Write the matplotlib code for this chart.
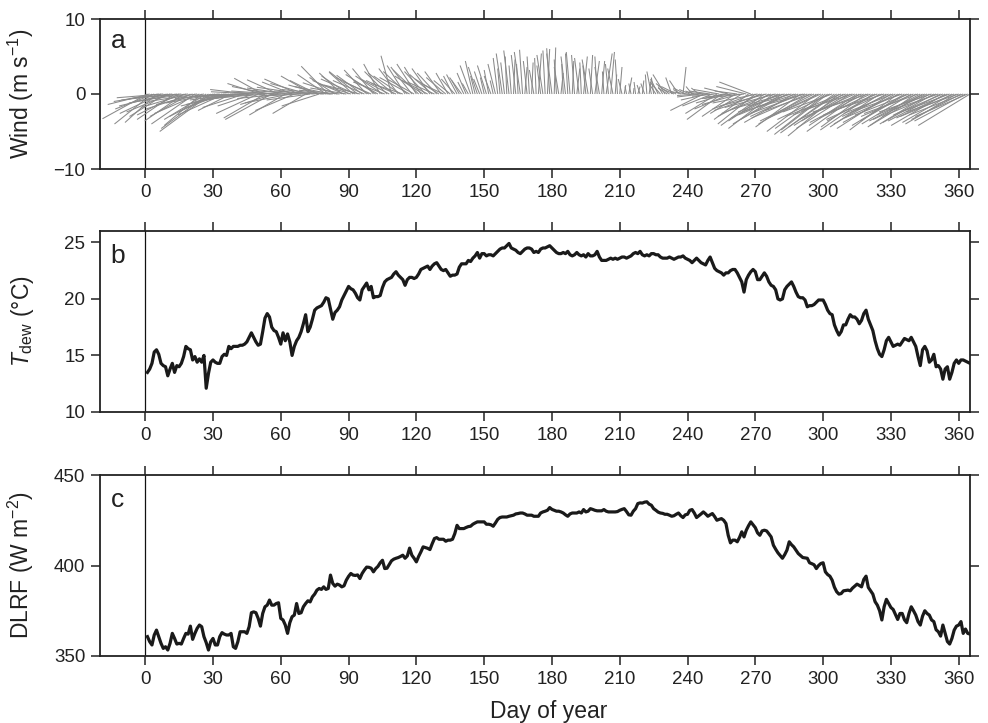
import matplotlib
matplotlib.use("Agg")
import matplotlib.pyplot as plt
from matplotlib.collections import LineCollection
import numpy as np

plt.rcParams['font.family'] = ['Liberation Sans', 'DejaVu Sans']
plt.rcParams['mathtext.fontset'] = 'custom'
plt.rcParams['mathtext.rm'] = 'Liberation Sans'
plt.rcParams['mathtext.it'] = 'Liberation Sans:italic'
plt.rcParams['axes.unicode_minus'] = True

# daily wind components (m/s), day 1..365
wind_u = [
    -6.0, -5.6, -5.0, -5.2, -4.2, -6.0, -5.5, -6.2, -4.8, -6.5,
    -5.8, -6.8, -5.0, -6.4, -5.6, -6.9, -5.2, -6.0, -6.6, -5.4,
    -6.2, -5.8, -6.6, -6.0, -5.0, -6.4, -5.6, -6.3, -6.8, -5.8,
    -6.6, -5.2, -6.0, -4.6, -6.2, -5.0, -6.4, -4.4, -5.8, -6.6,
    -5.0, -6.0, -4.8, -5.6, -6.8, -5.2, -6.5, -4.8, -6.0, -5.6,
    -4.4, -3.8, -5.5, -6.8, -5.0, -6.2, -4.5, -6.0, -4.2, -5.8,
    -6.6, -4.8, -5.4, -6.0, -4.0, -5.2, -6.4, -4.6, -5.6, -6.2,
    -4.4, -5.0, -5.8, -4.2, -5.4, -3.6, -5.0, -4.4, -5.6, -3.8,
    -3.6, -4.8, -5.2, -3.4, -4.6, -5.4, -3.0, -4.2, -4.8, -3.6,
    -4.4, -3.2, -4.6, -3.8, -4.8, -3.4, -4.2, -3.0, -4.4, -3.6,
    -2.8, -4.0, -3.2, -2.2, -3.6, -4.2, -3.0, -3.8, -1.4, -3.4,
    -4.0, -2.6, -3.6, -4.2, -2.4, -3.2, -4.0, -2.8, -3.6, -2.6,
    -3.4, -2.2, -3.8, -2.8, -3.4, -2.4, -3.0, -3.6, -2.6, -3.2,
    -2.2, -3.0, -2.6, -1.6, -2.2, -1.2, -1.8, -1.4, -1.0, -1.6,
    -0.8, -1.2, -0.8, -1.4, -1.0, -0.6, -1.2, -0.8, -1.0, -0.5,
    -1.2, -0.6, -0.9, -0.4, -1.0, -0.6, -0.3, -0.8, -0.5, -0.2,
    -0.7, -0.3, 0.2, -0.6, -0.2, -0.8, -0.4, 0.3, -0.5, -0.3,
    0.2, -0.6, -0.2, 0.4, -0.5, -0.8, -0.3, 0.3, -0.4, -0.7,
    0.2, -0.3, -0.6, 0.3, -0.2, -0.6, -0.3, -0.5, 0.2, -0.4,
    0.4, -0.6, -0.2, 0.5, -0.4, -0.8, 0.3, -0.5, 0.6, -0.3,
    -0.6, 0.4, -0.2, 0.8, -0.4, 0.5, -0.7, 0.2, -0.3, 0.3,
    -0.5, 0.2, -0.2, 0.4, -0.3, 0.1, -0.2, 0.3, -0.4, 0.2,
    -0.5, -0.2, 0.3, -0.6, -0.3, -0.8, -1.0, -1.4, -0.6, -1.6,
    -1.2, -1.8, -0.8, -1.4, -2.0, -1.2, -1.0, 0.4, -1.6, -2.2,
    -1.4, -0.8, -1.2, -2.6, -1.0, -3.2, -4.4, -2.4, -3.6, -2.8,
    -4.0, -3.0, -4.2, -3.4, -4.6, -2.6, -4.0, -3.2, -4.8, -3.6,
    -4.4, -3.0, -5.0, -4.2, -5.6, -4.0, -4.6, -4.2, -5.4, -5.0,
    -6.0, -5.6, -6.4, -5.8, -6.2, -5.4, -6.6, -6.0, -6.8, -6.2,
    -5.6, -6.6, -7.0, -6.2, -6.8, -5.8, -6.6, -7.2, -6.4, -6.0,
    -7.0, -6.6, -7.4, -6.8, -6.2, -7.2, -6.6, -6.0, -7.0, -6.4,
    -6.8, -6.2, -7.0, -6.6, -7.2, -6.4, -6.8, -7.4, -6.6, -7.0,
    -6.2, -7.2, -6.8, -7.4, -6.4, -7.0, -6.6, -7.2, -6.0, -7.4,
    -6.8, -7.0, -6.4, -7.2, -6.6, -7.4, -6.8, -7.0, -6.2, -7.2,
    -6.6, -7.0, -6.4, -7.4, -6.8, -7.0, -6.2, -7.2, -6.6, -7.0,
    -6.4, -7.2, -6.8, -7.0, -6.4, -7.2, -6.6, -7.0, -6.8, -7.2,
    -6.4, -7.0, -6.6, -7.2, -6.8, -7.0, -6.6, -7.2, -6.8, -7.0,
    -6.6, -7.2, -6.8, -7.0, -6.9,
]
wind_v = [
    -3.3, -1.4, -4.0, -2.0, -3.8, -1.0, -2.6, -0.5, -3.0, -1.6,
    -2.4, -0.8, -3.4, -1.2, -2.8, -0.6, -3.6, -1.8, -0.9, -3.0,
    -2.0, -4.0, -1.0, -2.6, -4.2, -1.4, -3.4, -4.6, -5.0, -3.0,
    -1.2, -2.4, -0.6, -1.8, -2.8, -0.4, -1.6, -2.2, -0.8, -1.4,
    -0.3, -1.0, -0.6, -1.8, -0.4, 0.6, -0.8, -1.6, 0.3, -2.6,
    1.4, 2.1, -3.2, -0.5, 1.0, -3.4, -1.4, 0.4, 1.9, -0.6,
    0.2, -2.8, 0.8, -1.2, 1.6, -2.2, 0.5, 2.0, -0.3, 0.9,
    -2.6, 1.4, -0.8, 2.4, 0.4, 1.8, -1.6, 1.2, 0.6, 2.6,
    3.7, 1.0, 0.2, 2.2, 1.5, 0.5, 2.8, 1.8, 0.8, 2.4,
    1.4, 2.9, 2.0, 3.0, 1.2, 2.5, 1.8, 3.2, 2.2, 1.6,
    3.4, 2.6, 1.8, 4.0, 2.4, 1.6, 3.0, 2.0, 5.1, 2.8,
    1.8, 3.4, 2.4, 1.4, 3.8, 3.0, 2.2, 3.6, 2.0, 4.0,
    3.2, 3.6, 2.4, 3.0, 1.8, 3.4, 2.6, 1.6, 2.8, 2.0,
    3.0, 1.4, 2.2, 2.8, 1.8, 2.4, 2.0, 2.6, 1.8, 2.2,
    1.6, 2.8, 1.4, 3.8, 4.4, 2.4, 3.6, 2.0, 3.0, 2.2,
    3.8, 3.2, 2.4, 1.8, 4.0, 4.8, 3.4, 5.4, 4.2, 5.0,
    5.8, 3.8, 4.6, 5.2, 4.0, 5.6, 5.9, 3.6, 4.4, 5.0,
    4.2, 3.2, 4.8, 5.4, 3.8, 5.2, 5.8, 6.0, 6.1, 5.4,
    6.2, 4.6, 3.6, 2.8, 4.0, 5.0, 5.4, 5.6, 4.4, 5.2,
    3.4, 4.8, 4.2, 5.0, 3.8, 4.6, 5.2, 3.4, 4.4, 5.0,
    3.6, 4.4, 3.0, 5.4, 4.0, 5.6, 3.4, 2.6, 4.6, 3.6,
    2.0, 1.2, 1.0, 2.2, 1.4, 0.8, 1.6, 1.0, 1.2, 1.8,
    1.4, 2.6, 2.0, 3.0, 2.2, 1.2, 2.0, 1.6, 1.0, 2.6,
    0.8, 1.4, 2.2, 0.6, 1.0, 1.8, 0.6, 3.6, 0.8, 0.3,
    0.6, 1.0, 0.4, -0.2, 0.8, -0.4, -2.2, 0.2, -0.8, 0.4,
    -1.6, -0.3, -2.6, 0.6, -3.4, -0.6, -1.2, 0.8, -2.0, -0.4,
    -3.0, 0.4, -1.4, -2.6, -0.6, 1.0, -3.4, 1.6, -2.0, -4.0,
    -1.2, -3.0, -2.2, -4.2, -1.6, -3.6, -2.6, -4.6, -1.8, -3.2,
    -2.4, -4.0, -2.0, -3.4, -2.8, -1.6, -3.8, -2.4, -3.0, -4.4,
    -2.6, -1.8, -3.2, -4.0, -2.2, -3.6, -5.0, -2.8, -3.2, -4.6,
    -5.4, -4.8, -3.4, -2.4, -5.2, -4.4, -5.6, -3.0, -4.2, -2.8,
    -3.6, -4.6, -2.2, -3.4, -4.2, -5.0, -2.6, -3.8, -4.4, -2.4,
    -3.2, -4.8, -3.6, -2.8, -4.4, -3.4, -2.2, -4.0, -3.0, -4.6,
    -2.6, -3.8, -4.8, -3.2, -2.4, -4.2, -3.6, -2.8, -4.0, -3.0,
    -4.4, -2.6, -3.6, -4.2, -2.8, -3.4, -4.0, -2.4, -3.8, -3.0,
    -2.2, -3.6, -2.8, -4.2, -3.2, -2.6, -3.8, -3.0, -4.0, -2.4,
    -3.4, -2.8, -3.6, -3.0, -4.2,
]

# daily dew-point temperature (deg C), day 1..365
t_dew = [
    13.5, 13.8, 14.3, 15.3, 15.5, 15.1, 14.3, 14.1, 14.0, 13.2,
    13.8, 14.3, 13.5, 14.1, 14.0, 14.3, 14.9, 15.8, 15.6, 15.5,
    14.6, 14.9, 14.4, 14.7, 14.4, 15.0, 12.1, 13.4, 14.4, 14.6,
    14.4, 14.3, 14.3, 14.9, 15.1, 15.0, 15.8, 15.6, 15.8, 15.8,
    15.8, 15.9, 15.9, 16.0, 16.2, 16.6, 17.0, 16.6, 16.2, 15.9,
    16.0, 17.1, 18.3, 18.7, 18.4, 17.5, 17.2, 17.1, 16.6, 16.0,
    17.0, 16.3, 16.9, 16.2, 15.0, 15.8, 16.3, 16.6, 17.1, 17.8,
    18.6, 17.1, 17.5, 18.2, 19.0, 19.2, 19.3, 19.4, 19.7, 20.1,
    20.0, 19.1, 18.2, 18.8, 19.0, 19.3, 19.9, 20.3, 20.7, 21.1,
    20.9, 20.8, 20.5, 20.1, 19.9, 20.8, 21.1, 21.4, 20.8, 21.1,
    20.1, 20.2, 20.2, 20.3, 21.0, 21.5, 21.7, 21.8, 21.9, 22.2,
    22.4, 22.1, 21.9, 21.7, 21.2, 21.7, 21.9, 21.9, 21.8, 21.9,
    22.2, 22.6, 22.7, 22.8, 22.9, 22.6, 22.9, 23.1, 23.2, 22.9,
    22.6, 22.5, 22.6, 22.3, 22.0, 22.1, 22.1, 22.2, 22.8, 23.1,
    23.1, 23.1, 23.4, 23.3, 23.6, 23.8, 24.1, 23.6, 24.0, 24.0,
    23.8, 23.9, 23.9, 23.8, 24.0, 24.2, 24.4, 24.5, 24.5, 24.7,
    24.9, 24.5, 24.4, 24.3, 24.1, 24.0, 24.2, 24.4, 24.5, 24.5,
    24.4, 24.1, 24.2, 24.1, 24.4, 24.5, 24.5, 24.6, 24.7, 24.5,
    24.3, 24.1, 24.0, 24.0, 24.1, 24.0, 24.2, 23.9, 23.8, 23.9,
    24.1, 23.9, 23.8, 23.9, 23.7, 24.0, 23.8, 23.8, 23.9, 24.2,
    23.7, 23.4, 23.4, 23.4, 23.5, 23.6, 23.5, 23.6, 23.5, 23.6,
    23.7, 23.7, 23.6, 23.7, 23.8, 24.0, 24.1, 24.0, 24.2, 23.9,
    23.8, 23.9, 23.8, 24.0, 24.0, 23.9, 23.9, 23.7, 23.6, 23.6,
    23.6, 23.7, 23.6, 23.5, 23.6, 23.7, 23.7, 23.8, 23.6, 23.5,
    23.4, 23.2, 23.4, 23.6, 23.4, 23.2, 23.1, 23.0, 23.4, 23.7,
    23.2, 22.7, 22.5, 22.4, 22.3, 22.1, 22.3, 22.3, 22.5, 22.6,
    22.6, 22.3, 21.9, 21.5, 20.6, 21.7, 22.1, 22.4, 22.6, 22.4,
    21.7, 21.7, 22.0, 22.3, 22.0, 21.5, 21.2, 21.1, 20.8, 20.0,
    19.9, 20.0, 20.8, 21.1, 21.3, 21.5, 21.1, 20.6, 20.2, 20.1,
    20.1, 19.9, 19.3, 19.4, 19.4, 19.5, 19.7, 19.9, 19.9, 19.9,
    19.5, 19.0, 18.7, 18.6, 17.7, 17.2, 16.8, 17.1, 17.7, 17.7,
    18.2, 18.6, 18.4, 18.4, 18.2, 17.8, 18.1, 18.7, 19.0, 18.2,
    17.7, 17.2, 16.3, 15.6, 15.1, 14.9, 15.5, 16.3, 16.6, 16.2,
    15.8, 15.9, 16.0, 15.9, 16.2, 16.5, 16.4, 16.3, 16.6, 16.2,
    15.8, 14.9, 14.1, 15.5, 15.8, 15.4, 14.4, 14.6, 15.1, 14.0,
    14.1, 13.8, 12.9, 13.8, 14.0, 12.9, 13.5, 14.3, 14.6, 14.3,
    14.6, 14.6, 14.5, 14.4, 14.3,
]

# daily downward longwave radiative flux (W/m2), day 1..365
dlrf = [
    360.7, 357.9, 356.1, 361.6, 364.3, 360.7, 357.0, 354.2, 355.1, 353.3,
    357.0, 362.5, 359.7, 356.6, 357.0, 356.6, 359.7, 362.5, 362.1, 366.5,
    359.2, 362.5, 365.3, 367.1, 366.2, 360.7, 357.4, 353.3, 357.9, 359.7,
    356.1, 356.1, 360.7, 362.9, 362.1, 361.6, 361.6, 362.5, 355.1, 354.2,
    357.9, 363.4, 363.4, 363.4, 362.5, 366.2, 373.9, 374.4, 373.9, 370.8,
    366.5, 373.5, 377.2, 378.1, 380.9, 378.1, 378.1, 379.0, 379.4, 370.8,
    369.9, 367.1, 362.5, 368.4, 371.7, 372.6, 379.0, 373.5, 373.9, 377.2,
    379.0, 380.5, 379.9, 382.7, 384.2, 386.4, 387.3, 386.8, 388.2, 386.8,
    387.3, 394.7, 390.1, 388.6, 389.7, 389.2, 388.2, 388.8, 391.9, 394.0,
    395.6, 394.7, 394.5, 394.8, 392.8, 395.6, 397.5, 399.1, 399.0, 398.5,
    396.5, 398.3, 399.5, 401.5, 402.9, 398.3, 398.5, 400.5, 402.6, 403.5,
    404.0, 404.4, 405.0, 405.7, 404.0, 405.3, 409.6, 405.7, 404.0, 402.0,
    405.0, 407.5, 410.3, 409.9, 409.5, 408.8, 412.0, 414.9, 415.4, 414.5,
    414.5, 414.5, 413.4, 414.0, 414.0, 414.5, 417.6, 422.2, 420.4, 420.4,
    420.4, 421.0, 421.5, 421.7, 422.8, 423.5, 424.1, 424.1, 424.1, 424.1,
    422.8, 422.8, 422.5, 421.7, 423.5, 425.5, 426.5, 426.8, 426.8, 426.8,
    427.2, 427.5, 427.8, 428.5, 428.7, 429.0, 429.0, 428.5, 427.8, 427.8,
    427.8, 427.2, 427.2, 427.2, 429.0, 429.6, 430.0, 430.5, 432.0, 431.0,
    430.5, 430.0, 430.0, 429.6, 429.0, 428.0, 427.2, 428.5, 429.0, 429.0,
    429.0, 429.6, 429.0, 430.9, 429.6, 430.0, 431.4, 431.0, 430.5, 430.2,
    430.2, 430.2, 430.9, 430.0, 429.6, 429.6, 429.6, 429.6, 429.8, 430.5,
    431.0, 431.4, 429.8, 428.0, 427.8, 430.0, 431.4, 434.2, 434.6, 434.5,
    435.0, 435.2, 433.9, 433.3, 431.4, 430.5, 429.5, 429.0, 428.8, 428.3,
    428.3, 427.8, 427.2, 427.5, 428.3, 429.0, 427.5, 426.5, 428.0, 428.3,
    430.5, 430.9, 429.0, 426.5, 427.5, 428.5, 429.6, 428.5, 427.2, 428.0,
    428.7, 427.0, 425.0, 425.5, 425.9, 425.0, 423.2, 416.7, 412.5, 414.0,
    414.0, 413.1, 415.5, 418.6, 415.8, 419.5, 422.0, 424.1, 422.5, 420.9,
    418.0, 416.7, 419.1, 419.5, 419.1, 417.5, 415.8, 411.2, 409.0, 407.0,
    405.5, 404.0, 406.0, 408.5, 413.1, 411.5, 410.3, 408.5, 406.6, 405.5,
    404.4, 404.2, 404.0, 401.5, 401.0, 400.4, 398.3, 400.0, 401.1, 401.5,
    396.5, 395.0, 394.1, 391.9, 388.0, 385.5, 384.2, 384.5, 386.0, 386.2,
    386.4, 386.0, 387.5, 388.6, 389.7, 389.0, 388.2, 392.3, 394.1, 387.9,
    386.0, 384.2, 380.0, 378.1, 375.0, 369.9, 377.2, 381.3, 379.0, 376.8,
    375.7, 373.0, 370.2, 373.5, 373.5, 370.0, 368.4, 373.5, 377.2, 375.0,
    372.6, 369.0, 367.1, 372.0, 375.0, 373.5, 372.6, 369.9, 369.0, 364.5,
    363.4, 361.0, 367.1, 362.5, 358.0, 356.6, 359.7, 364.3, 366.5, 367.1,
    369.0, 362.5, 364.9, 362.5, 362.1,
]

days = np.arange(1, 366)
x_ticks = list(range(0, 361, 30))

W, H = 988, 723
fig = plt.figure(figsize=(W / 100, H / 100), dpi=100)


def frac(x0, y0, x1, y1):
    # pixel box -> figure fraction [left, bottom, width, height]
    return [x0 / W, 1 - y1 / H, (x1 - x0) / W, (y1 - y0) / H]


ax_a = fig.add_axes(frac(100, 19, 970, 169))
ax_b = fig.add_axes(frac(100, 231, 970, 412))
ax_c = fig.add_axes(frac(100, 475, 970, 656))


def style(ax, ylim, yticks, letter):
    ax.set_xlim(-20, 365)
    ax.set_ylim(*ylim)
    ax.set_xticks(x_ticks)
    ax.set_yticks(yticks)
    ax.tick_params(direction='out', length=6.5, width=1.1, labelsize=13.5,
                   top=True, right=True, pad=4, color='#222222',
                   labelcolor='#222222')
    for sp in ax.spines.values():
        sp.set_linewidth(1.3)
        sp.set_color('#222222')
    ax.axvline(0, color='#111111', lw=0.9, zorder=1)
    ax.text(0.012, 0.93, letter, transform=ax.transAxes, fontsize=19,
            va='top', ha='left', color='#222222')


# a: wind sticks, drawn isotropically in screen space
style(ax_a, (-10, 10), [-10, 0, 10], 'a')
bb = ax_a.get_window_extent()
px_per_day = bb.width / (365 - -20)
px_per_ms = bb.height / 20.0
k = px_per_ms / px_per_day
u = np.array(wind_u)
v = np.array(wind_v)
segs = [[(d, 0.0), (d + uu * k, vv)] for d, uu, vv in zip(days, u, v)]
ax_a.add_collection(LineCollection(segs, colors='#8a8a8a', linewidths=0.75,
                                   zorder=2))
ax_a.set_ylabel('Wind (m s$^{-1}$)', fontsize=16.5, color='#222222')

# b: dew point
style(ax_b, (10, 26), [10, 15, 20, 25], 'b')
ax_b.plot(days, t_dew, color='#1a1a1a', lw=2.3, zorder=3)
ax_b.set_ylabel(r'$T_{\rm dew}$ (°C)', fontsize=16.5, color='#222222')

# c: downward longwave flux
style(ax_c, (350, 450), [350, 400, 450], 'c')
ax_c.plot(days, dlrf, color='#1a1a1a', lw=2.3, zorder=3)
ax_c.set_ylabel('DLRF (W m$^{-2}$)', fontsize=16.5, color='#222222')
ax_c.set_xlabel('Day of year', fontsize=16.5, color='#222222')
ax_c.xaxis.set_label_coords(0.5155, -0.245)

for ax in (ax_a, ax_b, ax_c):
    ax.yaxis.set_label_coords(-0.074, 0.5)

fig.savefig('out.png', dpi=100)
